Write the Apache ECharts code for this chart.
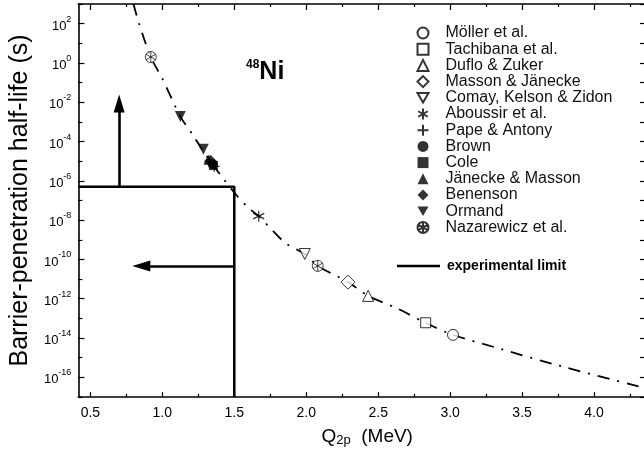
<!DOCTYPE html>
<html><head><meta charset="utf-8">
<script src="https://cdn.jsdelivr.net/npm/echarts@6/dist/echarts.min.js"></script>
<style>html,body{margin:0;padding:0;background:#fff}#c{width:644px;height:452px}</style>
</head><body><div id="c"></div>
<script>
// ---- data ----
const curveQ = [0.80, 0.835, 0.92, 1.00, 1.125, 1.21, 1.285, 1.40, 1.52, 1.61, 1.67, 1.77, 1.86, 1.99, 2.08, 2.29, 2.43, 2.625, 2.83, 3.02, 3.35, 3.76, 4.32, 4.36];
const curveT = [1e3, 1.2e2, 2.0, 0.16, 1.9e-3, 2.3e-4, 3.2e-5, 2.2e-6, 1.7e-7, 3.6e-8, 1.6e-8, 2.8e-9, 6.5e-10, 1.9e-10, 4.7e-11, 7.1e-12, 1.4e-12, 3.4e-13, 5.9e-14, 1.45e-14, 2.8e-15, 3.9e-16, 3.3e-17, 2.8e-17];

const names = ['Möller et al.', 'Tachibana et al.', 'Duflo & Zuker', 'Masson & Jänecke', 'Comay, Kelson & Zidon', 'Aboussir et al.', 'Pape & Antony', 'Brown', 'Cole', 'Jänecke & Masson', 'Benenson', 'Ormand', 'Nazarewicz et al.'];
const pointsQ = [[3.02], [2.83], [2.43], [2.29], [1.99], [1.67], [1.36], [1.35], [1.355], [1.32], [1.335], [1.125, 1.285], [0.92, 2.08]];
const pointsT = [[1.45e-14], [6.0e-14], [1.4e-12], [7.0e-12], [1.9e-10], [1.6e-8], [5.5e-6], [7.0e-6], [6.0e-6], [1.2e-5], [1.0e-5], [1.9e-3, 4.0e-5], [2.0, 4.7e-11]];

const limitName = 'experimental limit';
const limitQ = [0.4167, 1.5, 1.5];
const limitT = [5e-7, 5e-7, 1e-17];
const arrowUpQ = [0.70, 0.70];
const arrowUpT = [5e-7, 8.7e-3];
const arrowLeftQ = [1.5, 0.854];
const arrowLeftT = [4.7e-11, 4.7e-11];

const xMajor = [0.5, 1.0, 1.5, 2.0, 2.5, 3.0, 3.5, 4.0];
const xMinor = [0.75, 1.25, 1.75, 2.25, 2.75, 3.25, 3.75, 4.25];
const yMajor = [1e-16, 1e-14, 1e-12, 1e-10, 1e-8, 1e-6, 1e-4, 1e-2, 1e0, 1e2];
const yMinor = [1e-17, 1e-15, 1e-13, 1e-11, 1e-9, 1e-7, 1e-5, 1e-3, 1e-1, 1e1, 1e3];
const yAll = yMajor.concat(yMinor);

// ---- styling ----
const XMIN = 0.4167, XMAX = 4.347, YMIN = 1e-17, YMAX = 1e3;
const SANS = "'Liberation Sans', Arial, sans-serif";
const NARROW = "'Liberation Sans Narrow', 'Liberation Sans', Arial, sans-serif";

const P_AST = 'path://M0,-6L0,6M-5.2,-3L5.2,3M-5.2,3L5.2,-3';
const P_PLUS = 'path://M0,-6L0,6M-6,0L6,0';
const P_NAZ = 'path://M-6,0A6,6 0 1,1 6,0A6,6 0 1,1 -6,0ZM0,-6L0,6M-5.2,-3L5.2,3M-5.2,3L5.2,-3';
const P_DOWN = 'path://M-5,-4.3L5,-4.3L0,4.3Z';
const open = {color: '#fff', borderColor: '#000', borderWidth: 1};
const filled = {color: '#000', borderColor: '#000', borderWidth: 0};
const styles = [
  {symbol: 'circle', size: 11, item: open},
  {symbol: 'rect', size: 10, item: open},
  {symbol: 'triangle', size: 11, item: open},
  {symbol: 'diamond', size: 14, item: open},
  {symbol: P_DOWN, size: 11, item: open},
  {symbol: P_AST, size: 11, item: {color: 'none', borderColor: '#000', borderWidth: 1.2}},
  {symbol: P_PLUS, size: 11, item: {color: 'none', borderColor: '#000', borderWidth: 1.2}},
  {symbol: 'circle', size: 10, item: filled},
  {symbol: 'rect', size: 9, item: filled},
  {symbol: 'triangle', size: 10, item: filled},
  {symbol: 'diamond', size: 13, item: filled},
  {symbol: P_DOWN, size: 11, item: filled},
  {symbol: P_NAZ, size: 11, item: {color: '#fff', borderColor: '#000', borderWidth: 0.9}}
];

const axisBase = {splitLine: {show: false}, axisPointer: {show: false}};
function xAx(pos, ticks, len, showLine, showLabel) {
  return Object.assign({}, axisBase, {
    type: 'value', min: XMIN, max: XMAX, position: pos, gridIndex: 0,
    axisLine: {show: showLine, onZero: false, lineStyle: {color: '#000', width: 1.6}},
    axisTick: {show: true, inside: true, length: len, customValues: ticks, lineStyle: {color: '#000', width: 1.2}},
    axisLabel: showLabel ? {show: true, customValues: ticks, margin: 9, color: '#000', fontSize: 14, fontFamily: NARROW,
      formatter: v => v.toFixed(1)} : {show: false}
  });
}
function yAx(pos, ticks, len, showLine, showLabel) {
  return Object.assign({}, axisBase, {
    type: 'log', logBase: 10, min: YMIN, max: YMAX, position: pos, gridIndex: 0,
    axisLine: {show: showLine, onZero: false, lineStyle: {color: '#000', width: 1.6}},
    axisTick: {show: true, inside: true, length: len, customValues: ticks, lineStyle: {color: '#000', width: 1.2}},
    axisLabel: showLabel ? {show: true, customValues: ticks, margin: 7, color: '#000',
      formatter: v => '{b|10}{s|' + Math.round(Math.log10(v)) + '}',
      rich: {b: {fontSize: 13, fontFamily: NARROW, color: '#000', lineHeight: 18, verticalAlign: 'bottom'},
             s: {fontSize: 9, fontFamily: NARROW, color: '#000', lineHeight: 10, verticalAlign: 'top'}}} : {show: false}
  });
}

const xAxes = [xAx('bottom', xMajor, 5, true, true), xAx('bottom', xMinor, 3, false, false),
               xAx('top', xMajor, 6, true, false), xAx('top', xMinor, 3, false, false)];
Object.assign(xAxes[0], {
  name: 'Q{sub|2p}  (MeV)', nameLocation: 'middle', nameGap: 29,
  nameTextStyle: {fontSize: 19, fontFamily: SANS, color: '#000', padding: [0, 0, 0, 12],
    rich: {sub: {fontSize: 13, fontFamily: SANS, color: '#000', verticalAlign: 'bottom', padding: [8, 0, 0, 0]}}}
});
const yAxes = [yAx('left', yMajor, 6, true, true), yAx('left', yMinor, 4, false, false), yAx('right', yAll, 4, false, false)];
Object.assign(yAxes[0], {
  name: 'Barrier-penetration half-life (s)', nameLocation: 'middle', nameGap: 45,
  nameTextStyle: {fontSize: 25, fontFamily: SANS, color: '#000'}
});

const series = [{
  type: 'line', name: 'curve', xAxisIndex: 0, yAxisIndex: 0,
  data: curveQ.map((q, i) => [q, curveT[i]]),
  showSymbol: false, symbol: 'none', smooth: 0.3, silent: true, z: 1,
  lineStyle: {color: '#000', width: 1.8, type: [12, 8, 2, 8]}
}, {
  type: 'line', name: limitName, xAxisIndex: 0, yAxisIndex: 0,
  data: limitQ.map((q, i) => [q, limitT[i]]),
  symbol: 'none', showSymbol: false, silent: true, z: 2,
  lineStyle: {color: '#000', width: 2.6}, itemStyle: {color: '#000'},
  markLine: {
    silent: true, symbol: ['none', 'triangle'], symbolSize: [11, 18],
    label: {show: false}, lineStyle: {color: '#000', width: 2.6, type: 'solid'},
    emphasis: {disabled: true},
    data: [
      [{coord: [arrowUpQ[0], arrowUpT[0]]}, {coord: [arrowUpQ[1], arrowUpT[1]]}],
      [{coord: [arrowLeftQ[0], arrowLeftT[0]]}, {coord: [arrowLeftQ[1], arrowLeftT[1]]}]
    ]
  }
}];
names.forEach((n, k) => {
  const st = styles[k];
  series.push({
    type: 'scatter', name: n, xAxisIndex: 0, yAxisIndex: 0, z: 5 + k,
    data: pointsQ[k].map((q, i) => [q, pointsT[k][i]]),
    symbol: st.symbol, symbolSize: st.size,
    itemStyle: st.item, silent: true
  });
});

const chart = echarts.init(document.getElementById('c'), null, {renderer: 'canvas'});
chart.setOption({
  animation: false,
  backgroundColor: '#fff',
  grid: {left: 78, top: 4, width: 566, height: 394, containLabel: false},
  xAxis: xAxes,
  yAxis: yAxes,
  legend: [{
    data: names, orient: 'vertical', left: 410, top: 20, itemWidth: 11, itemHeight: 11, itemGap: 0.2,
    selectedMode: false, inactiveColor: '#000',
    textStyle: {fontSize: 16, fontFamily: SANS, color: '#111', lineHeight: 16, padding: [0, 0, 0, 12]}
  }, {
    data: [{name: limitName, icon: 'rect'}], orient: 'vertical', left: 392, top: 254, itemWidth: 43, itemHeight: 2.6,
    selectedMode: false, itemStyle: {color: '#000', borderWidth: 0},
    textStyle: {fontSize: 14, fontWeight: 'bold', fontFamily: SANS, color: '#000', padding: [0, 0, 0, 2]}
  }],
  graphic: [{
    type: 'text', left: 246, top: 59, silent: true,
    style: {text: '{s|48}{b|Ni}', rich: {
      s: {fontSize: 12, fontWeight: 'bold', fontFamily: SANS, fill: '#000', verticalAlign: 'top', lineHeight: 12},
      b: {fontSize: 25, fontWeight: 'bold', fontFamily: SANS, fill: '#000', lineHeight: 26, verticalAlign: 'bottom'}}}
  }],
  series: series
});
</script></body></html>
